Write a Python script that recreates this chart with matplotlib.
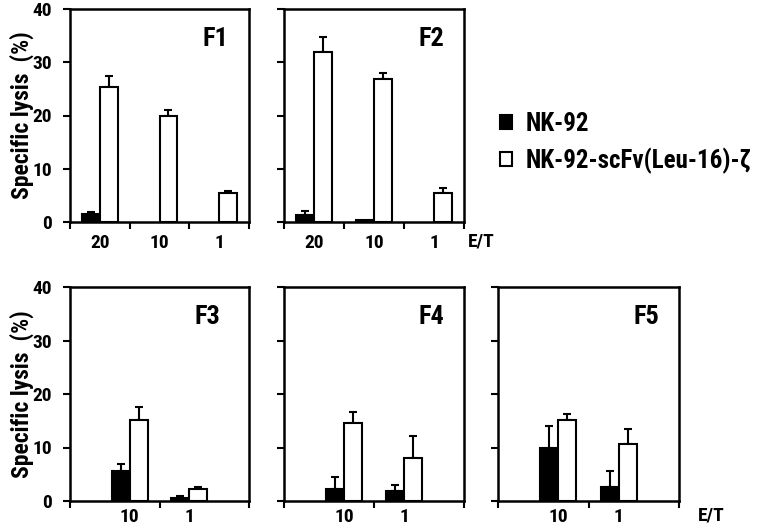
import matplotlib.pyplot as plt
from matplotlib.patches import Patch

plt.rcParams['font.family'] = ['Roboto Condensed', 'Liberation Sans', 'DejaVu Sans']
plt.rcParams['font.weight'] = 'bold'

# E/T ratios
top_ratios = ['20', '10', '1']
bottom_ratios = ['10', '1']

# specific lysis (%) and SD, NK-92 (parental) vs NK-92-scFv(Leu-16)-zeta
f1_nk = [1.5, 0.0, 0.0]
f1_nk_err = [0.4, 0.0, 0.0]
f1_car = [25.4, 20.0, 5.5]
f1_car_err = [2.0, 1.0, 0.3]

f2_nk = [1.4, 0.3, 0.0]
f2_nk_err = [0.7, 0.0, 0.0]
f2_car = [32.0, 26.8, 5.5]
f2_car_err = [2.7, 1.1, 0.8]

f3_nk = [5.6, 0.6]
f3_nk_err = [1.3, 0.4]
f3_car = [15.1, 2.3]
f3_car_err = [2.4, 0.3]

f4_nk = [2.3, 1.8]
f4_nk_err = [2.1, 1.1]
f4_car = [14.6, 8.1]
f4_car_err = [2.1, 4.1]

f5_nk = [9.9, 2.6]
f5_nk_err = [4.2, 3.0]
f5_car = [15.1, 10.6]
f5_car_err = [1.2, 2.8]

W, H = 772, 528
fig = plt.figure(figsize=(W / 100, H / 100), dpi=100)


def px_axes(x0, x1, y_top, y_bot):
    return fig.add_axes([x0 / W, 1 - y_bot / H, (x1 - x0) / W, (y_bot - y_top) / H])


def draw_panel(ax, centers, labels, nk, nk_err, car, car_err, name, name_x, show_y, xticks, xpad):
    bw = 0.3
    for c, v, e in zip(centers, nk, nk_err):
        if v > 0:
            ax.bar(c - bw / 2, v, bw, color='black', edgecolor='black', linewidth=1.5, zorder=2)
            if e > 0:
                ax.errorbar(c - bw / 2, v, yerr=[[0], [e]], fmt='none', ecolor='black',
                            elinewidth=1.5, capsize=3, capthick=1.5, zorder=3)
    for c, v, e in zip(centers, car, car_err):
        ax.bar(c + bw / 2, v, bw, color='white', edgecolor='black', linewidth=1.5, zorder=2)
        ax.errorbar(c + bw / 2, v, yerr=[[0], [e]], fmt='none', ecolor='black',
                    elinewidth=1.5, capsize=3, capthick=1.5, zorder=1)
    ax.set_xlim(0, 3)
    ax.set_ylim(0, 40)
    ax.set_yticks([0, 10, 20, 30, 40])
    if not show_y:
        ax.set_yticklabels([])
    ax.set_xticks(xticks)
    ax.set_xticklabels([])
    ax.set_xticks(centers, minor=True)
    ax.set_xticklabels(labels, minor=True)
    ax.tick_params(axis='x', which='minor', length=0, pad=xpad, labelsize=14)
    ax.tick_params(axis='x', which='major', direction='out', length=5, width=1.5)
    ax.tick_params(axis='y', direction='out', length=5, width=1.5, pad=8, labelsize=14)
    for s in ax.spines.values():
        s.set_linewidth(1.8)
    ax.text(name_x, 0.86, name, transform=ax.transAxes, ha='right', va='center',
            fontsize=19, fontweight='bold')


top_c = [0.5, 1.5, 2.5]
bot_c = [1.0, 2.0]

ax1 = px_axes(70, 249, 9, 222)
draw_panel(ax1, top_c, top_ratios, f1_nk, f1_nk_err, f1_car, f1_car_err, 'F1', 0.885, True, [0, 1, 2, 3], 9)
ax2 = px_axes(284, 464, 9, 222)
draw_panel(ax2, top_c, top_ratios, f2_nk, f2_nk_err, f2_car, f2_car_err, 'F2', 0.889, False, [0, 1, 2, 3], 9)
ax3 = px_axes(70, 249, 287, 501)
draw_panel(ax3, bot_c, bottom_ratios, f3_nk, f3_nk_err, f3_car, f3_car_err, 'F3', 0.84, True, [0, 1.5, 3], 5)
ax4 = px_axes(284, 464, 287, 501)
draw_panel(ax4, bot_c, bottom_ratios, f4_nk, f4_nk_err, f4_car, f4_car_err, 'F4', 0.889, False, [0, 1.5, 3], 5)
ax5 = px_axes(498, 679, 287, 501)
draw_panel(ax5, bot_c, bottom_ratios, f5_nk, f5_nk_err, f5_car, f5_car_err, 'F5', 0.89, False, [0, 1.5, 3], 5)

fig.text(22 / W, 1 - 115 / H, 'Specific lysis  (%)', rotation=90, ha='center', va='center', fontsize=17)
fig.text(22 / W, 1 - 394 / H, 'Specific lysis  (%)', rotation=90, ha='center', va='center', fontsize=17)
fig.text(481 / W, 1 - 242 / H, 'E/T', ha='center', va='center', fontsize=14)
fig.text(711 / W, 1 - 516 / H, 'E/T', ha='center', va='center', fontsize=14)

handles = [Patch(facecolor='black', edgecolor='black', linewidth=1.5),
           Patch(facecolor='white', edgecolor='black', linewidth=1.5)]
fig.legend(handles, ['NK-92', 'NK-92-scFv(Leu-16)-ζ'], loc='center left',
           bbox_to_anchor=(477 / W, 1 - 143 / H), frameon=False, fontsize=18,
           handlelength=0.5, handleheight=0.5, handletextpad=0.55, labelspacing=0.45)

fig.savefig('out.png', dpi=100)
